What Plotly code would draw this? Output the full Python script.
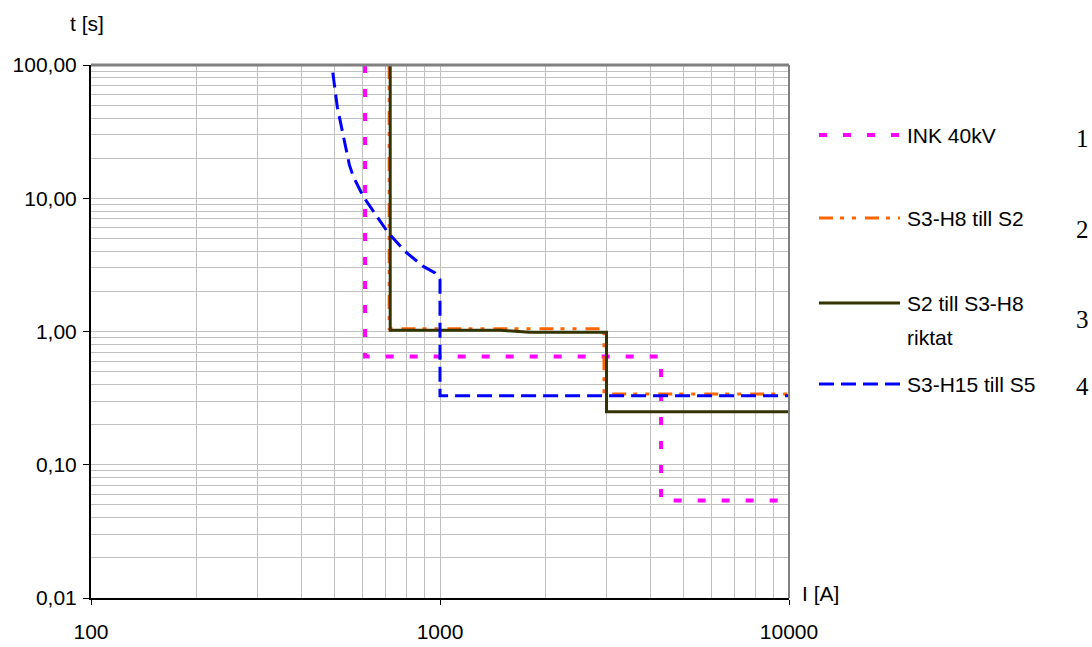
import plotly.graph_objects as go

# Tidsselektivitet: utlösningstid t [s] mot ström I [A]
ink_I = [610, 610, 4300, 4300, 10000]
ink_t = [100, 0.65, 0.65, 0.054, 0.054]

s3h8_I = [715, 715, 2950, 2950, 10000]
s3h8_t = [100, 1.05, 1.05, 0.34, 0.34]

s2_I = [720, 720, 1490, 1810, 3000, 3000, 10000]
s2_t = [100, 1.02, 1.02, 0.985, 0.985, 0.25, 0.25]

s3h15_I = [493, 508, 550, 564, 603, 633, 706, 794, 896, 968, 1000, 1000, 10000]
s3h15_t = [87.6, 48.2, 17.8, 14.6, 10.3, 8.58, 5.63, 3.99, 3.08, 2.75, 2.45, 0.33, 0.33]

series_names = ["INK 40kV", "S3-H8 till S2", "S2 till S3-H8", "S3-H15 till S5"]
series_numbers = ["1", "2", "3", "4"]

x_tickvals = [100, 1000, 10000]
x_ticktext = ["100", "1000", "10000"]
y_tickvals = [0.01, 0.1, 1, 10, 100]
y_ticktext = ["0,01", "0,10", "1,00", "10,00", "100,00"]

styles = [
    dict(color="#ff00ff", width=4, dash="8px,16px"),
    dict(color="#ff6600", width=3, dash="14px,7px,4px,8px,4px,9px"),
    dict(color="#333300", width=3, dash="solid"),
    dict(color="#0000ff", width=3, dash="15px,7px"),
]

fig = go.Figure()
for (xs, ys), name, st in zip(
    [(ink_I, ink_t), (s3h8_I, s3h8_t), (s2_I, s2_t), (s3h15_I, s3h15_t)],
    series_names, styles,
):
    fig.add_trace(go.Scatter(x=xs, y=ys, mode="lines", name=name,
                             line=st, showlegend=False))

# plot area in pixels
L, R, T, B = 91, 789, 65, 598
W, H = 1092, 647


def px(x):
    return (x - L) / (R - L)


def py(y):
    return (B - y) / (B - T)


grid = "#c0c0c0"
font = "Liberation Sans, Arial, sans-serif"
minor_x = [m * 10 ** e for e in (2, 3) for m in range(2, 10)]
minor_y = [m * 10 ** e for e in (-2, -1, 0, 1) for m in range(2, 10)]

fig.update_xaxes(
    type="log", range=[2, 4], tickvals=x_tickvals, ticktext=x_ticktext,
    showgrid=True, gridcolor=grid, gridwidth=1,
    minor=dict(tickvals=minor_x, showgrid=True, gridcolor=grid, gridwidth=1, ticks=""),
    showline=True, linecolor="black", linewidth=2,
    ticks="outside", ticklen=5, tickcolor="black", tickwidth=1,
    ticklabelstandoff=9, tickfont=dict(family=font, size=21, color="black"),
    zeroline=False, automargin=False,
)
fig.update_yaxes(
    type="log", range=[-2, 2], tickvals=y_tickvals, ticktext=y_ticktext,
    showgrid=True, gridcolor=grid, gridwidth=1,
    minor=dict(tickvals=minor_y, showgrid=True, gridcolor=grid, gridwidth=1, ticks=""),
    showline=True, linecolor="black", linewidth=2,
    ticks="outside", ticklen=6, tickcolor="black", tickwidth=1,
    ticklabelstandoff=2, tickfont=dict(family=font, size=21, color="black"),
    zeroline=False, automargin=False,
)

shapes = [
    # top and right frame
    dict(type="line", xref="x domain", yref="y domain", x0=0, x1=1, y0=1, y1=1,
         line=dict(color="#808080", width=3)),
    dict(type="line", xref="x domain", yref="y domain", x0=1, x1=1, y0=0, y1=1,
         line=dict(color="#808080", width=2)),
]

annotations = [
    dict(text="t [s]", x=px(87), y=py(23), xref="paper", yref="paper",
         showarrow=False, xanchor="center", yanchor="middle",
         font=dict(family=font, size=21, color="black")),
    dict(text="I [A]", x=px(820), y=py(593), xref="paper", yref="paper",
         showarrow=False, xanchor="center", yanchor="middle",
         font=dict(family=font, size=21, color="black")),
]

# legend block at the right
legend_rows = [135, 218, 303, 384]
number_rows = [138, 229, 319, 387]
for st, row, name, num, nrow in zip(styles, legend_rows, series_names,
                                     series_numbers, number_rows):
    shapes.append(dict(type="line", xref="paper", yref="paper",
                       x0=px(819), x1=px(900), y0=py(row), y1=py(row),
                       line=dict(color=st["color"], width=st["width"], dash=st["dash"])))
    annotations.append(dict(text=name, x=px(905), y=py(row), xref="paper", yref="paper",
                            showarrow=False, xanchor="left", yanchor="middle",
                            font=dict(family=font, size=21, color="black")))
    annotations.append(dict(text=num, x=px(1082), y=py(nrow), xref="paper", yref="paper",
                            showarrow=False, xanchor="center", yanchor="middle",
                            font=dict(family="Liberation Serif, Times New Roman, serif",
                                      size=25, color="black")))
annotations.append(dict(text="riktat", x=px(905), y=py(337), xref="paper", yref="paper",
                        showarrow=False, xanchor="left", yanchor="middle",
                        font=dict(family=font, size=21, color="black")))

fig.update_layout(
    width=W, height=H,
    margin=dict(l=L, r=W - R, t=T, b=H - B),
    paper_bgcolor="white", plot_bgcolor="white",
    shapes=shapes, annotations=annotations,
    showlegend=False,
)

fig.write_html("out.html")
